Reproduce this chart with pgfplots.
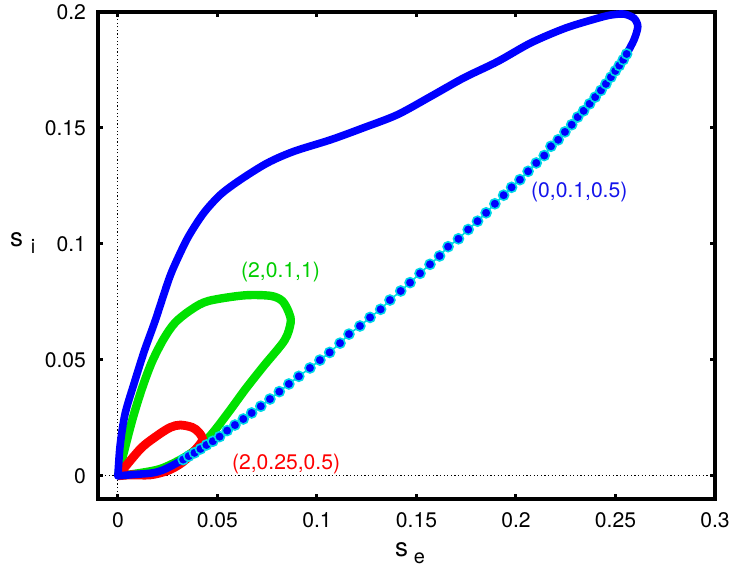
\documentclass[border=0pt]{standalone}
\usepackage{fontspec}
\setmainfont{TeX Gyre Heros}
\usepackage{pgfplots}
\pgfplotsset{compat=1.18}
\definecolor{dotblue}{RGB}{0,0,255}
\definecolor{linkcyan}{RGB}{0,215,230}
\definecolor{loopgreen}{RGB}{0,225,0}
\definecolor{loopred}{RGB}{255,0,0}
\definecolor{lblgreen}{RGB}{0,205,0}
\definecolor{lblblue}{RGB}{20,20,235}
\newcommand{\lblfont}{\fontsize{10.6}{12}\selectfont}

\begin{document}
\begin{tikzpicture}
\begin{axis}[
  name=main,
  scale only axis, width=308.5bp, height=243.5bp,
  xmin=-0.01, xmax=0.3, ymin=-0.01, ymax=0.2,
  xtick={0,0.05,0.1,0.15,0.2,0.25,0.3},
  xticklabels={0,0.05,0.1,0.15,0.2,0.25,0.3},
  ytick={0,0.05,0.1,0.15,0.2},
  yticklabels={0,0.05,0.1,0.15,0.2},
  tick align=inside,
  major tick length=2.5bp,
  tick style={black, line width=1.5bp},
  axis line style={black, line width=2bp},
  tick label style={font=\lblfont},
  yticklabel style={xshift=-2.5bp},
  xticklabel style={yshift=-3.3bp},
  xlabel={\fontsize{13}{13}\selectfont s\hspace{3bp}\raisebox{-3.5bp}{\fontsize{10}{10}\selectfont e}},
  ylabel={\fontsize{13}{13}\selectfont s\hspace{4bp}\raisebox{-3.5bp}{\fontsize{10}{10}\selectfont i}},
  every axis x label/.style={at={(axis description cs:0.5057,-0.118)}, anchor=base},
  every axis y label/.style={at={(axis description cs:-0.154,0.518)}, anchor=base west},
  clip=false,
]
% zero reference lines
\addplot[black, line width=0.5bp, dash pattern=on 0.6bp off 1.2bp] coordinates {(0,-0.01) (0,0.2)};
\addplot[black, line width=0.5bp, dash pattern=on 0.6bp off 1.2bp] coordinates {(-0.01,0) (0.3,0)};

% (2,0.1,1)
\addplot[loopgreen, line width=4.2bp, smooth] coordinates {
  (0,0) (0.0069,0.0231) (0.012,0.0374) (0.017,0.0489) (0.0229,0.0589) (0.0288,0.0661)
  (0.0371,0.0718) (0.0455,0.0754) (0.0633,0.0778) (0.0767,0.0776) (0.0826,0.0754)
  (0.0859,0.0704) (0.0868,0.0661) (0.0838,0.0585) (0.0732,0.0473) (0.0641,0.0374)
  (0.0561,0.028) (0.048,0.0189) (0.0415,0.0129) (0.0329,0.0077) (0.0214,0.003)
  (0.0088,0.0009) (0,0)
};

% (2,0.25,0.5)
\addplot[loopred, line width=4.4bp, smooth] coordinates {
  (0,0) (0.0113,0.0116) (0.0197,0.0173) (0.0264,0.0209) (0.0314,0.0219) (0.0373,0.0209)
  (0.0406,0.0188) (0.0424,0.0152) (0.0365,0.009) (0.0314,0.0052) (0.0249,0.0022)
  (0.0163,0.0004) (0.0063,0.0004) (0,0)
};

% (0,0.1,0.5): slow parts, where the samples overlap into a band
\addplot[dotblue, line width=3.8bp, line cap=round, line join=round, smooth] coordinates {
  (0,0) (0.0088,0.0006) (0.0178,0.0013) (0.0240,0.0030) (0.0328,0.0070)
};
\addplot[dotblue, line width=3.8bp, line cap=round, line join=round, smooth] coordinates {
  (0.2556,0.1819) (0.2593,0.188) (0.2612,0.1937) (0.2593,0.1973) (0.2543,0.1991)
  (0.2477,0.1987) (0.241,0.1973) (0.225,0.1931) (0.2075,0.1867) (0.1907,0.1786)
  (0.1738,0.1716) (0.1572,0.1636) (0.1404,0.1557) (0.1235,0.1501) (0.1069,0.1449)
  (0.0884,0.1399) (0.0751,0.1349) (0.0616,0.1277) (0.0516,0.1213) (0.0432,0.1134)
  (0.0356,0.1034) (0.0298,0.0933) (0.0256,0.0847) (0.0187,0.0668) (0.0133,0.0539)
  (0.0083,0.0403) (0.0036,0.0267) (0.0011,0.013) (0,0)
};
% fast branch: separate samples joined by a thin line
\addplot[linkcyan, line width=0.8bp, mark=*, mark size=2.5bp,
  mark options={draw=none, fill=dotblue}] coordinates {
  (0.0328,0.0070) (0.0356,0.0085) (0.0385,0.0099) (0.0415,0.0116) (0.0445,0.0133)
  (0.0477,0.0149) (0.0511,0.0169) (0.0549,0.0195) (0.0588,0.0219) (0.0630,0.0245)
  (0.0672,0.0271) (0.0718,0.0300) (0.0764,0.0331) (0.0811,0.0363) (0.0859,0.0396)
  (0.0909,0.0429) (0.0965,0.0465) (0.1015,0.0499) (0.1064,0.0532) (0.1116,0.0572)
  (0.1161,0.0611) (0.1216,0.0646) (0.1267,0.0683) (0.1320,0.0718) (0.1367,0.0758)
  (0.1421,0.0797) (0.1468,0.0833) (0.1518,0.0873) (0.1568,0.0912) (0.1616,0.0948)
  (0.1659,0.0988) (0.1711,0.1022) (0.1760,0.1062) (0.1807,0.1098) (0.1850,0.1134)
  (0.1894,0.1173) (0.1938,0.1210) (0.1978,0.1244) (0.2020,0.1277) (0.2061,0.1313)
  (0.2102,0.1349) (0.2142,0.1381) (0.2176,0.1421) (0.2212,0.1449) (0.2246,0.1483)
  (0.2280,0.1514) (0.2310,0.1547) (0.2340,0.1574) (0.2370,0.1604) (0.2398,0.1633)
  (0.2427,0.1662) (0.2452,0.1690) (0.2477,0.1719) (0.2499,0.1746) (0.2519,0.1769)
  (0.2539,0.1794) (0.2556,0.1819)
};

\node[text=lblblue, font=\lblfont] at (axis cs:0.2318,0.1222) {(0,0.1,0.5)};
\node[text=lblgreen, font=\lblfont] at (axis cs:0.0817,0.0877) {(2,0.1,1)};
\node[text=loopred, font=\lblfont] at (axis cs:0.0845,0.0052) {(2,0.25,0.5)};
\end{axis}
\pgfresetboundingbox
\path ([shift={(-49bp,-38bp)}]main.south west) rectangle ([shift={(9bp,6bp)}]main.north east);
\end{tikzpicture}
\end{document}
